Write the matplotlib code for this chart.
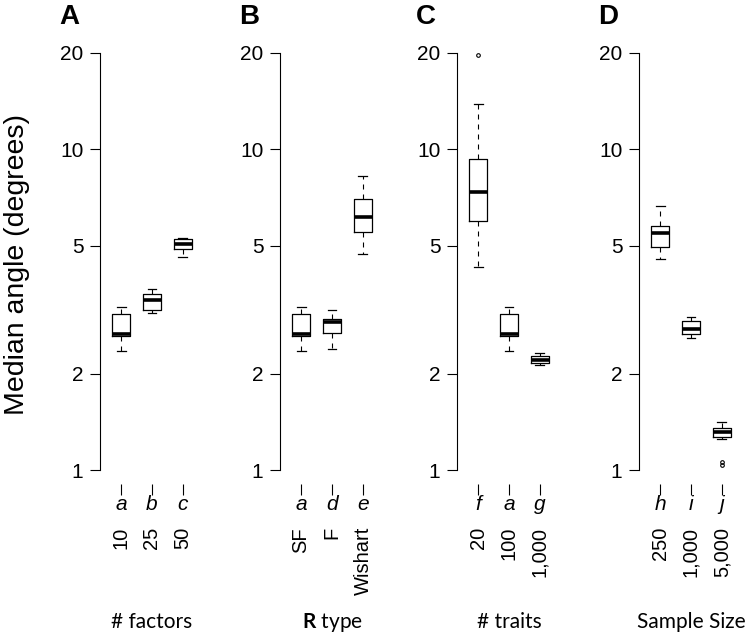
import matplotlib
matplotlib.use("Agg")
import matplotlib.pyplot as plt
from matplotlib.ticker import NullLocator

plt.rcParams['font.family'] = ['Liberation Sans', 'DejaVu Sans']
plt.rcParams['mathtext.fontset'] = 'custom'
plt.rcParams['mathtext.rm'] = 'Lato'
plt.rcParams['mathtext.bf'] = 'Lato:bold'

# data (box statistics, degrees)
panel_letters = ["A", "B", "C", "D"]
codes = [["a", "b", "c"], ["a", "d", "e"], ["f", "a", "g"], ["h", "i", "j"]]
group_labels = [["10", "25", "50"], ["SF", "F", "Wishart"],
                ["20", "100", "1,000"], ["250", "1,000", "5,000"]]
xlabels = ["# factors", r"$\mathbf{R}$ type", "# traits", "Sample Size"]

whislo = [[2.35, 3.08, 4.61], [2.35, 2.38, 4.71], [4.30, 2.35, 2.13], [4.54, 2.59, 1.25]]
q1 = [[2.62, 3.16, 4.88], [2.62, 2.67, 5.54], [5.98, 2.62, 2.15], [4.97, 2.65, 1.265]]
med = [[2.66, 3.39, 5.07], [2.66, 2.90, 6.17], [7.35, 2.66, 2.21], [5.47, 2.75, 1.317]]
q3 = [[3.07, 3.53, 5.26], [3.07, 2.96, 7.00], [9.33, 3.07, 2.27], [5.78, 2.92, 1.349]]
whishi = [[3.23, 3.67, 5.30], [3.23, 3.16, 8.28], [13.9, 3.23, 2.31], [6.67, 3.01, 1.415]]
fliers = [[[], [], []], [[], [], []], [[19.7], [], []], [[], [], [1.06, 1.04]]]

yticks = [1, 2, 5, 10, 20]

W, H = 755, 637
fig = plt.figure(figsize=(W / 100, H / 100), dpi=100)
lefts = [100, 280, 457, 639]

for i in range(4):
    ax = fig.add_axes([lefts[i] / W, (H - 470) / H, 104 / W, 417 / H])
    stats = []
    for j in range(3):
        stats.append(dict(whislo=whislo[i][j], q1=q1[i][j], med=med[i][j],
                          q3=q3[i][j], whishi=whishi[i][j], fliers=fliers[i][j]))
    ax.bxp(stats, positions=[1, 2, 3], widths=0.58, capwidths=0.29,
           boxprops=dict(color='black', linewidth=0.9),
           whiskerprops=dict(color='black', linewidth=0.8, linestyle=(0, (4.5, 4.5))),
           capprops=dict(color='black', linewidth=0.9),
           medianprops=dict(color='black', linewidth=2.6, solid_capstyle='butt'),
           flierprops=dict(marker='o', markersize=2.6, markerfacecolor='none',
                           markeredgecolor='black', markeredgewidth=0.8))
    ax.set_yscale('log')
    ax.set_ylim(1, 20)
    ax.set_xlim(0.32, 3.68)
    ax.tick_params(axis='y', length=7, width=0.8, pad=5, labelsize=15)
    ax.tick_params(axis='x', length=8, width=0.8, labelbottom=False)
    ax.set_yticks(yticks)
    ax.set_yticklabels([str(t) for t in yticks])
    ax.yaxis.set_minor_locator(NullLocator())
    ax.set_xticks([1, 2, 3])
    for s in ['top', 'right']:
        ax.spines[s].set_visible(False)
    ax.spines['bottom'].set_position(('outward', 10))
    ax.spines['bottom'].set_visible(False)
    ax.spines['left'].set_bounds(1, 20)
    ax.spines['left'].set_linewidth(0.8)
    ax.patch.set_visible(False)

    for j in range(3):
        ax.text(j + 1, -34 / 417, codes[i][j], transform=ax.get_xaxis_transform(),
                ha='center', va='center', fontsize=15, style='italic')
        ax.text(j + 1, -57 / 417, group_labels[i][j], transform=ax.get_xaxis_transform(),
                rotation=90, ha='center', va='top', fontsize=14.5)
    ax.text(0.5, -152 / 417, xlabels[i], transform=ax.transAxes, ha='center',
            va='center', family='Lato', fontsize=15)
    fig.text((lefts[i] - 31) / W, 1 - 17 / H, panel_letters[i], fontsize=20,
             fontweight='bold', ha='center', va='center')

fig.text(17 / W, 1 - 264 / H, 'Median angle (degrees)', rotation=90, fontsize=20.5,
         ha='center', va='center')

fig.savefig('out.png', dpi=100)
